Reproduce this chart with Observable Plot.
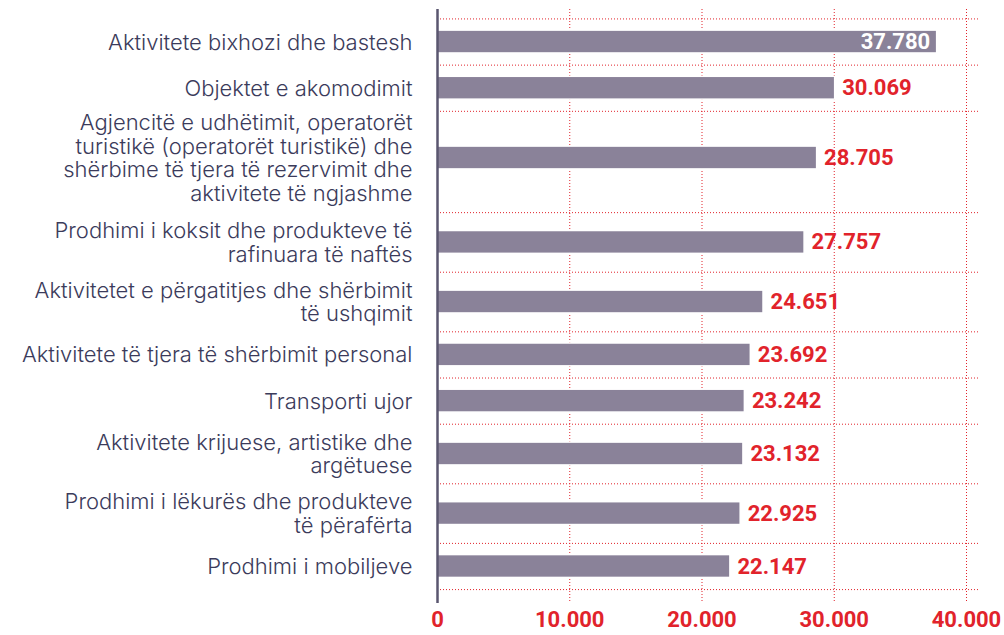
<!DOCTYPE html>
<html>
<head>
<meta charset="utf-8">
<script src="https://cdn.jsdelivr.net/npm/d3@7"></script>
<script src="https://cdn.jsdelivr.net/npm/@observablehq/plot@0.6"></script>
<style>
  html, body { margin: 0; padding: 0; background: #fff; }
</style>
</head>
<body>
<div id="chart"></div>
<script>
const categories = [
  "Aktivitete bixhozi dhe bastesh",
  "Objektet e akomodimit",
  "Agjencitë e udhëtimit, operatorët\nturistikë (operatorët turistikë) dhe\nshërbime të tjera të rezervimit dhe\naktivitete të ngjashme",
  "Prodhimi i koksit dhe produkteve të\nrafinuara të naftës",
  "Aktivitetet e përgatitjes dhe shërbimit\ntë ushqimit",
  "Aktivitete të tjera të shërbimit personal",
  "Transporti ujor",
  "Aktivitete krijuese, artistike dhe\nargëtuese",
  "Prodhimi i lëkurës dhe produkteve\ntë përafërta",
  "Prodhimi i mobiljeve"
];
const values = [37780, 30069, 28705, 27757, 24651, 23692, 23242, 23132, 22925, 22147];
const xTicks = [0, 10000, 20000, 30000, 40000];

const RED = "#e1232b";
const NAVY = "#3b3b5b";
const BAR = "#8a8299";

const fmt = d3.formatLocale({decimal: ",", thousands: ".", grouping: [3], currency: ["", ""]}).format(",d");

// layout: band size grows with number of label lines
let acc = 0;
const rows = categories.map((c, i) => {
  const lines = c.split("\n").length;
  const band = lines === 1 ? 46.5 : 21 * lines + 18;
  const y0 = acc;
  acc += band;
  const mid = y0 + band / 2 - (lines > 2 ? 4 : 0);
  return {label: c, value: values[i], y0, y1: acc, mid, b1: mid - 11.5, b2: mid + 11.5};
});
const total = acc;
const bounds = [0, ...rows.map(r => r.y1)];

const chart = Plot.plot({
  width: 1004,
  height: 635,
  marginLeft: 437,
  marginRight: 38,
  marginTop: 9,
  marginBottom: 32,
  style: {fontFamily: "Roboto, sans-serif", background: "#fff"},
  x: {domain: [0, 40000], axis: null},
  y: {domain: [-9.5, total + 14], reverse: true, axis: null},
  marks: [
    Plot.ruleX(xTicks, {stroke: RED, strokeWidth: 1, strokeDasharray: "1,2"}),
    Plot.ruleY(bounds, {x1: 0, x2: 41000, stroke: RED, strokeWidth: 1, strokeDasharray: "1,2"}),
    Plot.rectX(rows, {x1: 0, x2: "value", y1: "b1", y2: "b2", fill: BAR, stroke: "#fff", strokeWidth: 1.5}),
    Plot.ruleX([0], {stroke: "#5a566f", strokeWidth: 2.5}),
    Plot.text(rows, {x: 0, y: "mid", text: "label", textAnchor: "end", dx: -25,
      fill: NAVY, fontSize: 22, lineHeight: 1.07, fontFamily: "Inter", fontWeight: 300}),
    Plot.text(rows.filter(d => d.value <= 35000), {x: "value", y: "mid", text: d => fmt(d.value),
      textAnchor: "start", dx: 7, fill: RED, fontSize: 22, fontWeight: "bold", fontFamily: "Roboto"}),
    Plot.text(rows.filter(d => d.value > 35000), {x: "value", y: "mid", text: d => fmt(d.value),
      textAnchor: "end", dx: -7, fill: "#fff", fontSize: 22, fontWeight: "bold", fontFamily: "Roboto"}),
    Plot.axisX(xTicks, {anchor: "bottom", tickSize: 0, tickPadding: 8, tickFormat: fmt, label: null,
      fill: RED, fontSize: 22, fontWeight: "bold", fontFamily: "Roboto"})
  ]
});
document.getElementById("chart").appendChild(chart);
</script>
</body>
</html>
